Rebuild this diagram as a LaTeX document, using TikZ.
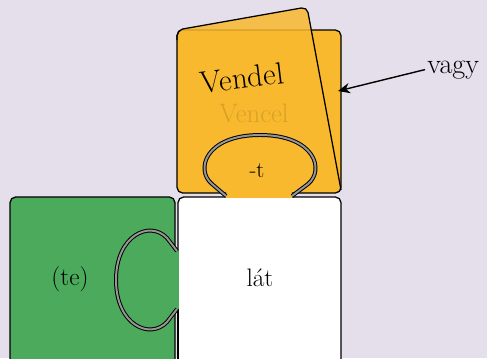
\documentclass[tikz,border=0pt]{standalone}
\usepackage{fontspec}
\usepackage{xcolor}
\usepackage{tikz}
\usetikzlibrary{arrows.meta}

\definecolor{bgcol}{RGB}{228,223,235}
\definecolor{orangecol}{RGB}{249,185,46}
\definecolor{greencol}{RGB}{75,170,91}
\definecolor{knobgray}{RGB}{150,150,150}

\tikzset{
  piecebd/.style={line width=0.9pt, rounded corners=4pt},
  knobline/.style={line width=0.7pt, double=knobgray, double distance=1.4pt},
  word/.style={inner sep=0pt},
}

\begin{document}
\begin{tikzpicture}[x=0.25mm, y=-0.25mm]
        \useasboundingbox[fill=bgcol] (0,0) rectangle (487,358);
        % base piece and the piece on its left
        \fill[white, rounded corners=4pt] (178,197) rectangle (341,375);
        \fill[greencol, rounded corners=4pt] (10,197) rectangle (175,375);
        \fill[greencol] (173,251) rectangle (178.5,309);
        \draw[piecebd] (175,251) -- (175,197) -- (10,197) -- (10,375) -- (175,375) -- (175,309);
        \draw[piecebd] (228,197) -- (178,197) -- (178,251);
        \draw[piecebd] (178,309) -- (178,375);
        \draw[piecebd] (290,197) -- (341,197) -- (341,375) -- (300,375);
        \draw[knobline] (177,251) -- (167,238) .. controls (150,220) and (116,235) .. (116,280)
            .. controls (116,325) and (150,340) .. (167,322) -- (177,309);
        % top piece
        \fill[orangecol, rounded corners=4pt] (177,30) rectangle (341,193);
        \fill[orangecol] (226,190) rectangle (292,197.5);
        \draw[piecebd] (226,193) -- (177,193) -- (177,30) -- (341,30) -- (341,193) -- (292,193);
        \node[word, text opacity=0.13, font=\fontsize{19}{22}\selectfont] (vencel) at (254,113) {Vencel};
        % tilted card
        \fill[orangecol, opacity=0.85, rounded corners=4pt] (177,30) -- (307,7) -- (341,190) -- (300,110) -- cycle;
        \draw[piecebd] (177,40) -- (177,30) -- (307,7) -- (341,190);
        \node[word, rotate=7, font=\fontsize{22}{25}\selectfont] (vendel) at (242,78) {Vendel};
        \draw[knobline] (226,196) -- (212,184) .. controls (195,170) and (205,135) .. (260,135)
            .. controls (315,135) and (325,170) .. (308,184) -- (292,196);
        \node[word, font=\fontsize{16}{19}\selectfont] (suffix) at (257,171) {-t};
        \node[word, font=\fontsize{18}{21}\selectfont] (te) at (70,279) {(te)};
        \node[word, font=\fontsize{18}{21}\selectfont] (lat) at (260,278) {lát};
        % label with arrow
        \coordinate (cardedge) at (338,91);
        \node[inner sep=1.5pt, anchor=base west, font=\fontsize{20}{23}\selectfont] (vagy) at (425,73) {vagy};
        \draw[->, >={Stealth[length=3mm, width=2.6mm]}, line width=1pt] (vagy.west) -- (cardedge);
\end{tikzpicture}
\end{document}
